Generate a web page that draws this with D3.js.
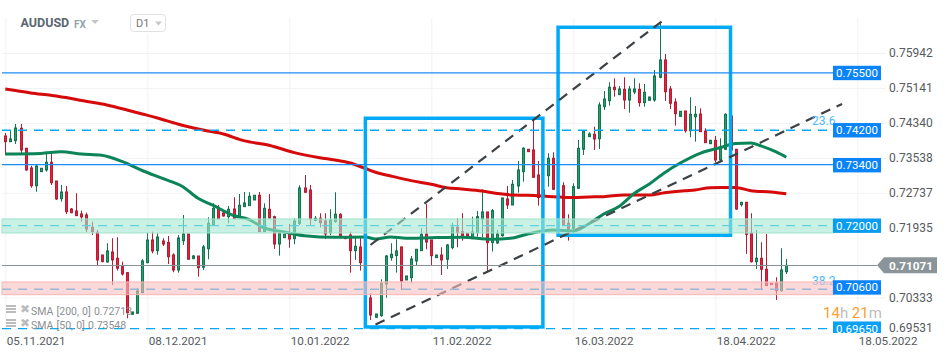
<!DOCTYPE html>
<html lang="en">
<head>
<meta charset="UTF-8">
<script src="https://d3js.org/d3.v7.min.js"></script>
<style>
  html, body { margin: 0; padding: 0; background: #fff; }
  svg { display: block; font-family: Roboto, sans-serif; }
  .grid line { stroke: #f1f2f3; }
  .grid path { display: none; }
  .yaxis path, .yaxis line, .xaxis path, .xaxis line { display: none; }
  .yaxis text { font-size: 12px; fill: #565b60; font-family: Roboto, sans-serif; }
  .xaxis text { font-size: 11.7px; fill: #565b60; font-family: Roboto, sans-serif; }
  .legend text { font-size: 10.5px; fill: #8c8f92; word-spacing: 0.5px; }
</style>
</head>
<body>
<svg class="chart" width="950" height="358"></svg>
<script>

// candles
const opens = [.74038,.73908,.73931,.74215,.73757,.73305,.72898,.73220,.73259,.73435,.73006,.72600,.72754,.72364,.72319,.72250,.72227,.71945,.71830,.71309,.71149,.71378,.71234,.71042,.70904,.69949,.69972,.70445,.71133,.71653,.71408,.71630,.71600,.71309,.70965,.71637,.71791,.71225,.71286,.71028,.71454,.71997,.72380,.72273,.72188,.72364,.72174,.72418,.72441,.72571,.72679,.71844,.72358,.72188,.71561,.71706,.71807,.71683,.72036,.72846,.72800,.72105,.72151,.72089,.71821,.72073,.72243,.71716,.71768,.71408,.71493,.71286,.70323,.69880,.69917,.70644,.71248,.71294,.71493,.70736,.70789,.71172,.71408,.71791,.71653,.71248,.71309,.71211,.71477,.71945,.71844,.71798,.71683,.71821,.72135,.72296,.71592,.71584,.71752,.72594,.72456,.72892,.73220,.73734,.73718,.73144,.72800,.73128,.73527,.72617,.72898,.72036,.71922,.72839,.73734,.74023,.74078,.73977,.74711,.74848,.75156,.74986,.75110,.74864,.75048,.75110,.74803,.74857,.74864,.75385,.75782,.75117,.74818,.74490,.74612,.74160,.74481,.74543,.74153,.73862,.73940,.73488,.73734,.74497,.73734,.72463,.72518,.71807,.71156,.71234,.70981,.70660,.70667,.70490,.70926];
const highs = [.74107,.74160,.74314,.74314,.73764,.73357,.73373,.73298,.73679,.73672,.73006,.72915,.72892,.72387,.72725,.72326,.72280,.72073,.71883,.71309,.71578,.71693,.71716,.71156,.70904,.70002,.70546,.71218,.71821,.71844,.71807,.71693,.71745,.71348,.71768,.72227,.71791,.71309,.71286,.71538,.72174,.72495,.72456,.72303,.72433,.72633,.72708,.72754,.72747,.72679,.72754,.72495,.72708,.72211,.71814,.71784,.72020,.72151,.72908,.73144,.72915,.72204,.72266,.72266,.72358,.72747,.72266,.71716,.71844,.71729,.71716,.71332,.70431,.69956,.70752,.71309,.71578,.71669,.71500,.70828,.71286,.71440,.71922,.72479,.71653,.71309,.71486,.71561,.72051,.72151,.72266,.71798,.72188,.72319,.72816,.72296,.72364,.71883,.72617,.72892,.73029,.73465,.73780,.73734,.74390,.73465,.72846,.73642,.73665,.72754,.72977,.72243,.72954,.73947,.74160,.74124,.74252,.74812,.75071,.75270,.75362,.75186,.75385,.75186,.75362,.75247,.75231,.74933,.75553,.76624,.75920,.75186,.74903,.74605,.74612,.74926,.74727,.74674,.74215,.73940,.74038,.73986,.74559,.74520,.73741,.72518,.72518,.72266,.71883,.71600,.71791,.70660,.70798,.71463,.71218];
const lows = [.73603,.73908,.73855,.73603,.73243,.72852,.72761,.73220,.73220,.72915,.72571,.72532,.72250,.72266,.72204,.72073,.71830,.71768,.71080,.71142,.71133,.70621,.70950,.70835,.69858,.69949,.69972,.70431,.71119,.71348,.71316,.71515,.71103,.70912,.70904,.71538,.71211,.71225,.70812,.70965,.71211,.71974,.72128,.72188,.72036,.72128,.72151,.72418,.72433,.72571,.71844,.71837,.72142,.71447,.71294,.71706,.71477,.71555,.71997,.72738,.71974,.72089,.71945,.71676,.71768,.72051,.71729,.71683,.70904,.71195,.70950,.71103,.69818,.69880,.69894,.70330,.71179,.70904,.70507,.70736,.70660,.71057,.71408,.71440,.71080,.71248,.70851,.70988,.71440,.71486,.71638,.71745,.71683,.71729,.71716,.70912,.71385,.71568,.71729,.72364,.72456,.72738,.72991,.73679,.73091,.72440,.72639,.72876,.72800,.72571,.71981,.71638,.71807,.72823,.73603,.74023,.73718,.73741,.74635,.74734,.74940,.74986,.74658,.74573,.74995,.74712,.74712,.74857,.74825,.75362,.74841,.74658,.74275,.74490,.74114,.74008,.73908,.74137,.73885,.73862,.73426,.73449,.73718,.73695,.72342,.72418,.71333,.71133,.70988,.70530,.70606,.70628,.70277,.70468,.70873];
const closes = [.73908,.73970,.74222,.73718,.73259,.72898,.73350,.73298,.73435,.72967,.72594,.72754,.72303,.72280,.72211,.72181,.71906,.71844,.71195,.71156,.71401,.71195,.71005,.70874,.69986,.70002,.70484,.71172,.71653,.71401,.71722,.71561,.71270,.70965,.71699,.71791,.71211,.71286,.71018,.71493,.72036,.72380,.72142,.72204,.72358,.72151,.72449,.72502,.72656,.72679,.71844,.72380,.72158,.71561,.71814,.71784,.71676,.72089,.72846,.72747,.72135,.72151,.72051,.71791,.72112,.72243,.71729,.71683,.71408,.71509,.71133,.71149,.69933,.69956,.70660,.71286,.71326,.71401,.70713,.70828,.71218,.71440,.71784,.71607,.71294,.71309,.71195,.71538,.71945,.71821,.71745,.71745,.71837,.72188,.72296,.71592,.72326,.71791,.72617,.72456,.72931,.73259,.73757,.73679,.73091,.72624,.72685,.73527,.72816,.72708,.71997,.71906,.72876,.73757,.74160,.74085,.73970,.74750,.74887,.75156,.75101,.75117,.74864,.75117,.75117,.74803,.75041,.74933,.75415,.75782,.75055,.74789,.74550,.74605,.74160,.74536,.74536,.74137,.73885,.73940,.73488,.73780,.74536,.73718,.72364,.72518,.71784,.71156,.71234,.70981,.70606,.70628,.70490,.70965,.71071];

// moving averages, sampled along the curve
const sma200Idx = [0,2,5,9,12,15,20,24,27,30,34,39,43,47,52,57,62,65,68,71,73,76,80,84,87,90,94,97,100,103,108,112,115,118,122,127,130,134,136,139,144,147,151,154];
const sma200 = [.75117,.75082,.75025,.74972,.74922,.74853,.74750,.74635,.74543,.74452,.74314,.74176,.74085,.73931,.73826,.73656,.73541,.73488,.73419,.73293,.73206,.73121,.73014,.72931,.72853,.72823,.72777,.72720,.72685,.72679,.72647,.72628,.72640,.72647,.72685,.72685,.72738,.72784,.72800,.72853,.72857,.72784,.72754,.72715];
const sma50Idx = [0,7,11,15,19,23,27,31,35,38,41,45,48,51,55,59,65,71,73,76,79,84,90,96,100,103,108,112,115,118,121,124,127,130,133,137,141,144,147,149,152,154];
const sma50 = [.73626,.73638,.73679,.73626,.73596,.73454,.73247,.73064,.72876,.72610,.72445,.72215,.72128,.71929,.71837,.71752,.71716,.71722,.71676,.71722,.71693,.71706,.71716,.71670,.71699,.71791,.71883,.71860,.72020,.72250,.72422,.72720,.72938,.73197,.73412,.73642,.73775,.73867,.73878,.73811,.73672,.73550];

// axes
const yTicks = [.75942,.75141,.74340,.73538,.72737,.71935,.71133,.70333,.69531];
const yLabels = ["0.75942","0.75141","0.74340","0.73538","0.72737","0.71935","","0.70333","0.69531"];
const xTicks = [0,28,56,84,112,140,168];
const xLabels = ["05.11.2021","08.12.2021","10.01.2022","11.02.2022","16.03.2022","18.04.2022","18.05.2022"];

// horizontal levels
const levelPrices = [.75484,.74170,.73380,.71981,.70523,.69619];
const levelLabels = ["0.75500","0.74200","0.73400","0.72000","0.70600","0.69650"];
const levelDashed = [false,true,false,true,true,true];

// green and red zones [top, bottom]
const greenZone = [.72135,.71814];
const redZone = [.70690,.70399];

// the two blue rectangles
const boxStart = [71,109];
const boxEnd = [106,143];
const boxTop = [.74445,.76532];
const boxBottom = [.69658,.71762];

// the two dashed trend lines
const trendStart = [72,73];
const trendEnd = [130,165];
const trendFrom = [.71538,.69713];
const trendTo = [.76718,.74773];

const lastPrice = .71071;

const x = d3.scaleLinear().domain([0, 168]).range([5.3, 857.3]);
const y = d3.scaleLinear().domain([.75942, .69531]).range([53, 332.5]);

const svg = d3.select(".chart");
const plotRight = 833;

// gridlines
svg.append("g")
    .attr("class", "grid")
    .attr("transform", "translate(2,0)")
    .call(d3.axisRight(y).tickValues(yTicks.filter((d, i) => yLabels[i] !== "")).tickSize(884).tickFormat(""));
svg.append("g")
    .attr("class", "grid")
    .attr("transform", "translate(0,18)")
    .call(d3.axisBottom(x).tickValues(xTicks).tickSize(317).tickFormat(""));

// candles
const candles = svg.append("g").selectAll("g")
    .data(opens.map((o, i) => ({i, o, h: highs[i], l: lows[i], c: closes[i]})))
  .join("g")
    .attr("transform", d => `translate(${Math.round(x(d.i)) + 0.5},0)`);

candles.append("line")
    .attr("y1", d => y(d.h))
    .attr("y2", d => y(d.l))
    .attr("stroke", d => d.c >= d.o ? "#14744f" : "#b81c34");

candles.append("rect")
    .attr("x", -1)
    .attr("width", 2)
    .attr("y", d => y(Math.max(d.o, d.c)))
    .attr("height", d => Math.abs(y(d.o) - y(d.c)))
    .attr("fill", d => d.c >= d.o ? "#22a06e" : "#e8213a")
    .attr("stroke", d => d.c >= d.o ? "#14744f" : "#b81c34");

// moving averages
const smaLine = d3.line().x(d => x(d[0])).y(d => y(d[1])).curve(d3.curveMonotoneX);
svg.append("path")
    .attr("d", smaLine(sma200Idx.map((d, i) => [d, sma200[i]])))
    .attr("fill", "none").attr("stroke", "#d50a0a").attr("stroke-width", 3);
svg.append("path")
    .attr("d", smaLine(sma50Idx.map((d, i) => [d, sma50[i]])))
    .attr("fill", "none").attr("stroke", "#0b8458").attr("stroke-width", 3);

// blue rectangles
svg.append("g").selectAll("rect")
    .data(boxStart)
  .join("rect")
    .attr("x", (d, i) => x(d))
    .attr("y", (d, i) => y(boxTop[i]))
    .attr("width", (d, i) => x(boxEnd[i]) - x(d))
    .attr("height", (d, i) => y(boxBottom[i]) - y(boxTop[i]))
    .attr("fill", "none")
    .attr("stroke", "#00aaf7")
    .attr("stroke-width", 3.5);

// trend lines
svg.append("g").selectAll("line")
    .data(trendStart)
  .join("line")
    .attr("x1", d => x(d))
    .attr("x2", (d, i) => x(trendEnd[i]))
    .attr("y1", (d, i) => y(trendFrom[i]))
    .attr("y2", (d, i) => y(trendTo[i]))
    .attr("stroke", "#3c4145")
    .attr("stroke-width", 2.2)
    .attr("stroke-dasharray", "10,7");

// levels
svg.append("g").selectAll("line")
    .data(levelPrices)
  .join("line")
    .attr("x1", 2)
    .attr("x2", plotRight)
    .attr("y1", d => y(d))
    .attr("y2", d => y(d))
    .attr("stroke", (d, i) => levelDashed[i] ? "#00aaf7" : "#1a8cf5")
    .attr("stroke-width", 1.3)
    .attr("stroke-dasharray", (d, i) => levelDashed[i] ? "9,7" : null);

// last price line
svg.append("line")
    .attr("x1", 2).attr("x2", 877)
    .attr("y1", Math.round(y(lastPrice)) + 0.5 )
    .attr("y2", Math.round(y(lastPrice)) + 0.5)
    .attr("stroke", "#889196").attr("stroke-width", 1.2);

// fibo labels
svg.append("text").attr("x", 812).attr("y", 125).text("23.6")
    .attr("font-size", 12).attr("fill", "#4db8ff");
svg.append("text").attr("x", 812).attr("y", 285).text("38.2")
    .attr("font-size", 12).attr("fill", "#4db8ff");

// zones go over everything drawn so far
svg.append("rect")
    .attr("x", 2).attr("width", plotRight - 2)
    .attr("y", y(greenZone[0])).attr("height", y(greenZone[1]) - y(greenZone[0]))
    .attr("fill", "rgb(165,233,210)").attr("fill-opacity", 0.6)
    .attr("stroke", "#9fe3c9");
svg.append("rect")
    .attr("x", 2).attr("width", plotRight - 2)
    .attr("y", y(redZone[0])).attr("height", y(redZone[1]) - y(redZone[0]))
    .attr("fill", "rgb(250,192,192)").attr("fill-opacity", 0.6)
    .attr("stroke", "#f9b4b4");

// level tags, the 0.706 one sits a little above its line
const tagColors = ["#0a84f8","#0a84f8","#0a84f8","#0a9cf0","#0a84f8","#0aa0f5"];
const tagShift = [0,0,0.5,0,-1.8,0];
const tagBottomClip = 333;
const tags = svg.append("g").selectAll("g")
    .data(levelPrices)
  .join("g");
tags.append("rect")
    .attr("x", plotRight)
    .attr("width", 48)
    .attr("y", (d, i) => y(d) - 7.2 + tagShift[i])
    .attr("height", (d, i) => Math.min(14.4, tagBottomClip - (y(d) - 7.2 + tagShift[i])))
    .attr("fill", (d, i) => tagColors[i]);
tags.append("text")
    .attr("x", plotRight + 24)
    .attr("y", (d, i) => y(d) + 4 + tagShift[i])
    .attr("text-anchor", "middle")
    .attr("font-size", 11.5)
    .attr("fill", "#fff")
    .text((d, i) => levelLabels[i]);

// y axis labels
const yAxisG = svg.append("g")
    .attr("class", "yaxis")
    .attr("transform", "translate(889,0)")
    .call(d3.axisRight(y).tickValues(yTicks).tickSize(0).tickPadding(0)
      .tickFormat((d, i) => yLabels[i]));
yAxisG.selectAll("text").filter((d, i) => i === yTicks.length - 1).attr("dy", "-0.1em");

// x axis labels
svg.append("g")
    .attr("class", "xaxis")
    .attr("transform", "translate(0,332)")
    .call(d3.axisBottom(x).tickValues(xTicks).tickSize(0).tickPadding(4.5)
      .tickFormat((d, i) => xLabels[i]))
  .selectAll("text")
    .attr("text-anchor", "start")
    .attr("dx", 1);

// last price tag
svg.append("path")
    .attr("d", d3.line()([[877, y(lastPrice)], [884, y(lastPrice) - 8], [937, y(lastPrice) - 8], [937, y(lastPrice) + 8], [884, y(lastPrice) + 8]]) + "Z")
    .attr("fill", "#8a9499");
svg.append("text")
    .attr("x", 889).attr("y", y(lastPrice) + 4.4)
    .attr("font-size", 11.8).attr("font-weight", 700).attr("fill", "#fff")
    .text("0.71071");

// countdown
const countdown = svg.append("text").attr("x", 823).attr("y", 317.5).attr("font-size", 15);
countdown.append("tspan").attr("fill", "#f7a233").text("14");
countdown.append("tspan").attr("fill", "#bdbdbd").text("h ");
countdown.append("tspan").attr("fill", "#f7a233").text("21");
countdown.append("tspan").attr("fill", "#bdbdbd").text("m");

// sma legend
const legendRows = ["SMA [200, 0] 0.72713", "SMA [50, 0] 0.73548"];
const legend = svg.append("g").attr("class", "legend").selectAll("g")
    .data(legendRows)
  .join("g")
    .attr("transform", (d, i) => `translate(0,${[311, 325][i]})`);
legend.append("text").attr("x", 31).attr("y", 4).text(d => d);
[-6, -3, 0].forEach(dy => {
  legend.append("rect").attr("x", 6).attr("y", dy).attr("width", 10).attr("height", 2).attr("fill", "#bcbcbc");
});
legend.append("text").attr("x", 20).attr("y", 2).text("✖").style("fill", "#bcbcbc").style("font-size", "12px");

// header
svg.append("text").attr("x", 20.5).attr("y", 27).text("AUDUSD")
    .attr("font-size", 12.5).attr("font-weight", 700).attr("fill", "#5b6670");
svg.append("text").attr("x", 74).attr("y", 28).text("FX")
    .attr("font-size", 10).attr("font-weight", 700).attr("fill", "#93a3ad");
svg.append("path").attr("d", "M91,20L99,20L95,24Z").attr("fill", "#c4c8cb");
svg.append("rect").attr("x", 125).attr("y", 10).attr("width", 45).attr("height", 23).attr("fill", "#fff");
svg.append("rect").attr("x", 130.5).attr("y", 14.5).attr("width", 35).attr("height", 17).attr("rx", 3)
    .attr("fill", "#fff").attr("stroke", "#dfe1e3");
svg.append("text").attr("x", 136).attr("y", 27).text("D1")
    .attr("font-size", 11).attr("fill", "#777");
svg.append("path").attr("d", "M155,21.5L162,21.5L158.5,25.5Z").attr("fill", "#c4c8cb");

</script>
</body>
</html>
